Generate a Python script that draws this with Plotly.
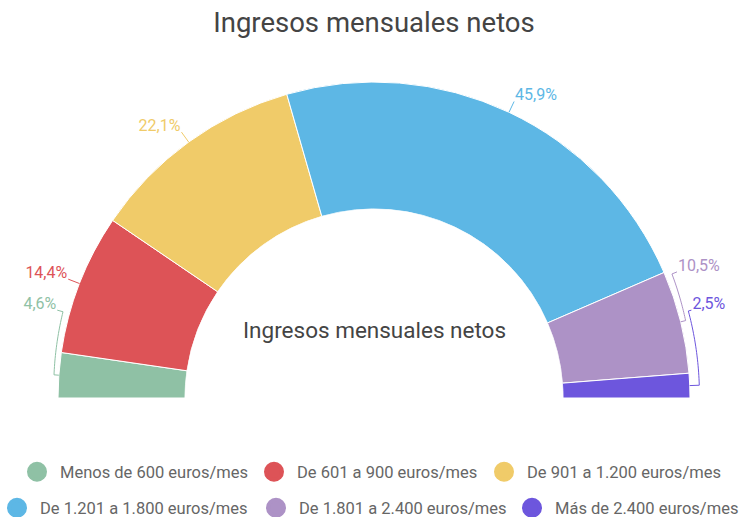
import numpy as np
import plotly.graph_objects as go

categories = ["Menos de 600 euros/mes", "De 601 a 900 euros/mes", "De 901 a 1.200 euros/mes",
              "De 1.201 a 1.800 euros/mes", "De 1.801 a 2.400 euros/mes", "Más de 2.400 euros/mes"]
values = [4.6, 14.4, 22.1, 45.9, 10.5, 2.5]
value_labels = ["4,6%", "14,4%", "22,1%", "45,9%", "10,5%", "2,5%"]
title_text = "Ingresos mensuales netos"

# styling
colors = ["#8fc1a5", "#dd5357", "#f0cb69", "#5db7e5", "#ad92c6", "#6d56dd"]
label_shift = [-11.36, 0, 0, 0, 8.65, 13.22]   # label angle offset (deg) from slice mid
elbow_r = [1.038, 1.0, 1.0, 1.0, 1.04, 1.075]  # connector radius near the slice (ring units)
bend_r = [1.053, 1.0, 1.0, 1.0, 1.053, 1.08]   # connector radius near the label
end_r = [1.10, 1.095, 1.097, 1.094, 1.096, 1.105]
legend_pos = [(37, 472), (274, 472), (504, 472), (17, 508), (276, 508), (532, 508)]  # circle centres (px)

W, H = 743, 517
CX, CY, R_OUT, R_IN = 374, 398, 316, 189
RMAX = 1.2
ring = (R_OUT - R_IN) / 1.0
R_POLAR = R_IN + ring * RMAX
HOLE = R_IN / R_POLAR

total = sum(values)
widths = [v / total * 180 for v in values]
starts = 180 - np.concatenate([[0], np.cumsum(widths)[:-1]])
mids = [s - w / 2 for s, w in zip(starts, widths)]

fig = go.Figure()
fig.add_trace(go.Barpolar(r=[1] * len(values), theta=mids, width=widths, base=0,
                          marker=dict(color=colors, line=dict(color="white", width=1)),
                          showlegend=False, hoverinfo="skip"))


def shift_px(r, th, dx, dy):
    """move a polar point by (dx, dy) screen pixels (dy up)"""
    p = R_IN + r * ring
    x = p * np.cos(np.radians(th)) + dx
    y = p * np.sin(np.radians(th)) + dy
    return (np.hypot(x, y) - R_IN) / ring, np.degrees(np.arctan2(y, x))


for i, (m, lab) in enumerate(zip(mids, value_labels)):
    la = m + label_shift[i]
    if abs(label_shift[i]) > 0:
        n = 24
        th = [m, m] + list(np.linspace(m, la, n)) + [la]
        rs = [1.0, elbow_r[i]] + list(np.linspace(elbow_r[i], bend_r[i], n)) + [end_r[i]]
    else:
        th = [m, m]
        rs = [1.0, end_r[i]]
    fig.add_trace(go.Scatterpolar(r=rs, theta=th, mode="lines", line=dict(color=colors[i], width=1),
                                  showlegend=False, hoverinfo="skip"))
    left = m > 90
    tr, tt = shift_px(rs[-1], th[-1], -1 if left else 1, 5)
    fig.add_trace(go.Scatterpolar(r=[tr], theta=[tt], mode="text", text=[lab],
                                  textposition="middle left" if left else "middle right",
                                  textfont=dict(family="Roboto", size=16, color=colors[i]),
                                  showlegend=False, hoverinfo="skip"))

legend_layouts = {}
for i, c in enumerate(categories):
    key = "legend" if i == 0 else f"legend{i + 1}"
    fig.add_trace(go.Scatterpolar(r=[None], theta=[None], mode="markers", name=c,
                                  marker=dict(color=colors[i], size=16, symbol="circle",
                                              line=dict(color=colors[i], width=4)),
                                  legend=key))
    px, py = legend_pos[i]
    legend_layouts[key] = dict(orientation="h", x=(px - 23) / W, xanchor="left",
                               y=1 - py / H, yanchor="middle", itemwidth=36,
                               font=dict(family="Roboto", size=16.5, color="#666"),
                               bgcolor="rgba(0,0,0,0)", itemclick=False)

fig.update_layout(
    width=W, height=H, margin=dict(l=0, r=0, t=0, b=0, autoexpand=False),
    paper_bgcolor="white", plot_bgcolor="white",
    font=dict(family="Roboto", color="#666"),
    title=dict(text=title_text, x=CX / W, xanchor="center", y=1 - 22 / H, yanchor="middle",
               font=dict(family="Roboto", size=27.5, color="#444")),
    polar=dict(domain=dict(x=[(CX - R_POLAR) / W, (CX + R_POLAR) / W],
                           y=[1 - CY / H, 1 - (CY - R_POLAR) / H]),
               sector=[0, 180], hole=HOLE, bgcolor="rgba(0,0,0,0)",
               radialaxis=dict(visible=False, range=[0, RMAX]),
               angularaxis=dict(visible=False, direction="counterclockwise", rotation=0)),
    annotations=[dict(text=title_text, x=CX / W, y=1 - 330 / H, xref="paper", yref="paper",
                      showarrow=False, font=dict(family="Roboto", size=22.5, color="#444"))],
    **legend_layouts,
)

fig.write_html("out.html", config={"displayModeBar": False},
               post_script="document.body.style.margin='0';")
